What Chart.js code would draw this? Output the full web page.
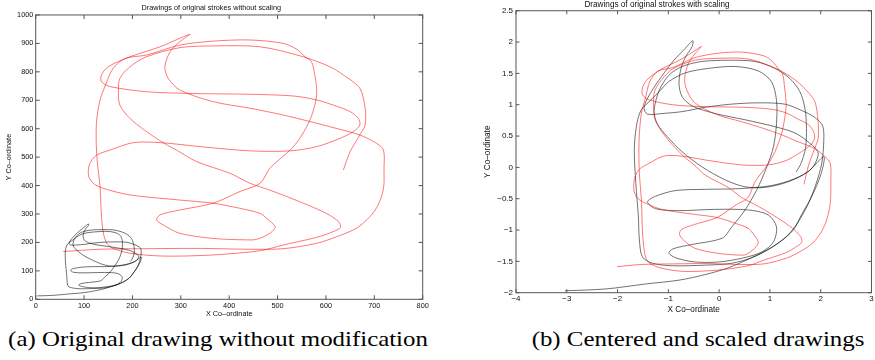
<!DOCTYPE html>
<html>
<head>
<meta charset="utf-8">
<script src="https://cdn.jsdelivr.net/npm/chart.js@4.4.1/dist/chart.umd.min.js"></script>
<style>
  body { margin: 0; width: 875px; height: 360px; background: #fff; position: relative; overflow: hidden; }
  canvas { position: absolute; top: 0; }
  #left { left: 0; }
  #right { left: 440px; }
  .cap { position: absolute; top: 326px; font-family: 'Liberation Serif', serif; font-size: 22px; line-height: 26px; color: #000; white-space: nowrap; transform: translateX(-50%) scaleX(1.13); }
</style>
</head>
<body>
<canvas id="left" width="440" height="322"></canvas>
<canvas id="right" width="435" height="322"></canvas>
<div class="cap" style="left:218px">(a) Original drawing without modification</div>
<div class="cap" style="left:698px">(b) Centered and scaled drawings</div>
<script>
// stroke 1 (red) in original coordinates
const redRawX = [57,133,236,340,443,512,581,622,663,691, 708,719,720,719,705,670,608,567,512,443,
  367,298,274,267,278,298,319,302,257,195, 150,136,136,154,229,319,443,533,581,615,
  650,667,670,657,629,581,526,443,340,257, 202,154,126,112,109,119,140,195,298,367,
  422,464,477,495,484,457,436,367,298,264, 250,257,298,367,422,464,484,526,546,567,
  577,581,577,570,557,539,512,443,367,298, 229,185,160,143,133,126,125,127,133,136,
  140,147,160,195,264,367,464,512,581,615, 630,626,601,546,484,443,402,333,291,271,
  229,195,174,171,174,195,229,298,367,464, 553,608,636,670,681,681,670,650,636];
const redRawY = [168,176,178,179,176,178,197,220,250,291, 332,390,460,525,548,578,607,625,648,672,
  695,736,777,818,871,906,932,921,888,853, 818,789,765,748,730,724,721,715,701,683,
  660,636,613,590,566,537,522,522,537,551, 551,525,507,478,437,408,390,367,349,338,
  320,302,285,255,232,211,209,214,232,261, 279,297,314,338,379,408,461,525,566,631,
  683,730,789,836,853,880,900,912,908,894, 859,847,812,748,701,630,560,490,396,291,
  232,197,179,162,152,156,171,191,218,238, 253,273,302,343,384,408,443,484,525,543,
  590,636,683,730,777,818,853,885,891,888, 853,818,789,742,672,613,578,519,455];

// stroke 2 (black) in original coordinates
const blackRawX = [3,37,70,98,120,139,158,175,187,197,205,212,216,218,217,
  210,200,186,164,142,120,100,84,72,69,71,
  77,85,94,102,109,
  109,104,100,98,100,109,128,153,178,194,205,213,
  208,194,175,147,120,95,78,72,
  78,98,128,156,172,179,
  176,167,150,131,111,96,89,93,109,134,
  142,153,162,171,176,179,179,175,164,145,122,103,89,81,
  74,66,62,61,62,64,65,67,76,92,120,142,
  161,180,193,200,208,216,218,
  205,189,169,153,136,117,100,88,80,77,
  81,89,100,117,139,161,178,190,198,202,204,203,199,195];
const blackRawY = [12,14,19,23,29,36,46,56,67,81,100,120,141,163,179,
  188,195,201,202,201,198,193,191,191,197,205,
  218,232,245,256,265,
  259,250,237,222,209,199,191,185,178,172,163,152,
  136,126,119,115,115,113,108,102,
  95,93,94,94,89,77,
  62,51,45,41,41,45,50,55,59,65,
  77,94,114,138,158,181,205,224,235,239,237,233,224,214,
  205,195,178,155,120,87,63,46,40,37,38,40,
  47,60,74,89,107,131,148,
  133,122,117,117,124,138,153,168,181,195,
  215,230,239,244,245,244,237,227,214,197,176,156,141,133];

// same strokes after centering and scaling
const redScaledX = [-2.01,-1.53,-0.87,-0.21,0.44,0.88,1.32,1.58,1.84,2.02, 2.12,2.19,2.20,2.19,2.10,1.88,1.49,1.23,0.88,0.44,
  -0.04,-0.48,-0.63,-0.68,-0.61,-0.48,-0.35,-0.45,-0.74,-1.13, -1.42,-1.51,-1.51,-1.39,-0.92,-0.35,0.44,1.01,1.32,1.53,
  1.76,1.86,1.88,1.80,1.62,1.32,0.97,0.44,-0.21,-0.74, -1.09,-1.39,-1.57,-1.66,-1.68,-1.62,-1.48,-1.13,-0.48,-0.04,
  0.31,0.57,0.66,0.77,0.70,0.53,0.40,-0.04,-0.48,-0.70, -0.78,-0.74,-0.48,-0.04,0.31,0.57,0.70,0.97,1.10,1.23,
  1.29,1.32,1.29,1.25,1.17,1.05,0.88,0.44,-0.04,-0.48, -0.92,-1.20,-1.36,-1.46,-1.53,-1.57,-1.58,-1.57,-1.53,-1.51,
  -1.48,-1.44,-1.36,-1.13,-0.70,-0.04,0.57,0.88,1.32,1.53, 1.63,1.60,1.44,1.10,0.70,0.44,0.18,-0.26,-0.52,-0.65,
  -0.92,-1.13,-1.27,-1.29,-1.27,-1.13,-0.92,-0.48,-0.04,0.57, 1.14,1.49,1.67,1.88,1.95,1.95,1.88,1.76,1.67];
const redScaledY = [-1.585,-1.55,-1.54,-1.535,-1.55,-1.54,-1.45,-1.35,-1.21,-1.02, -0.83,-0.56,-0.24,0.06,0.16,0.30,0.43,0.52,0.62,0.73,
  0.84,1.03,1.22,1.40,1.65,1.81,1.93,1.88,1.73,1.57, 1.40,1.27,1.16,1.08,1.00,0.97,0.96,0.93,0.87,0.78,
  0.68,0.57,0.46,0.36,0.25,0.11,0.04,0.04,0.11,0.18, 0.18,0.06,-0.03,-0.16,-0.35,-0.48,-0.56,-0.67,-0.75,-0.80,
  -0.89,-0.97,-1.05,-1.19,-1.29,-1.39,-1.40,-1.37,-1.29,-1.16, -1.07,-0.99,-0.91,-0.80,-0.61,-0.48,-0.24,0.06,0.25,0.54,
  0.78,1.00,1.27,1.49,1.57,1.69,1.78,1.84,1.82,1.75, 1.59,1.54,1.38,1.08,0.87,0.54,0.22,-0.10,-0.54,-1.02,
  -1.29,-1.45,-1.535,-1.61,-1.66,-1.64,-1.57,-1.48,-1.36,-1.26, -1.19,-1.10,-0.97,-0.78,-0.59,-0.48,-0.32,-0.13,0.06,0.14,
  0.36,0.57,0.78,1.00,1.22,1.40,1.57,1.71,1.74,1.73, 1.57,1.40,1.27,1.06,0.73,0.46,0.30,0.03,-0.27];

const blackScaledX = [-3.04,-2.23,-1.44,-0.79,-0.27,0.19,0.64,1.03,1.33,1.55,1.75,1.91,2.02,2.06,2.04,
  1.88,1.62,1.29,0.77,0.25,-0.27,-0.73,-1.12,-1.41,-1.48,-1.43,
  -1.28,-1.09,-0.89,-0.69,-0.52,
  -0.53,-0.65,-0.75,-0.79,-0.73,-0.53,-0.08,0.51,1.10,1.49,1.75,1.95,
  1.82,1.49,1.03,0.38,-0.27,-0.86,-1.25,-1.41,
  -1.25,-0.79,-0.08,0.58,0.97,1.13,
  1.07,0.84,0.45,-0.01,-0.47,-0.83,-0.99,-0.91,-0.53,0.06,
  0.25,0.51,0.74,0.94,1.07,1.13,1.13,1.03,0.77,0.32,-0.21,-0.66,-0.99,-1.18,
  -1.35,-1.54,-1.63,-1.67,-1.64,-1.59,-1.57,-1.51,-1.31,-0.92,-0.27,0.25,
  0.71,1.16,1.46,1.62,1.82,2.01,2.06,
  1.75,1.36,0.90,0.51,0.12,-0.34,-0.73,-1.02,-1.22,-1.28,
  -1.18,-0.99,-0.73,-0.34,0.19,0.71,1.10,1.39,1.59,1.69,1.72,1.70,1.61,1.52];
const blackScaledY = [-1.97,-1.94,-1.86,-1.80,-1.71,-1.60,-1.44,-1.28,-1.10,-0.88,-0.59,-0.26,0.06,0.41,0.66,
  0.80,0.91,1.01,1.03,1.01,0.96,0.89,0.86,0.85,0.94,1.07,
  1.28,1.50,1.71,1.88,2.02,
  1.93,1.78,1.58,1.34,1.13,0.98,0.86,0.76,0.65,0.55,0.41,0.23,
  -0.02,-0.18,-0.29,-0.34,-0.35,-0.37,-0.46,-0.55,
  -0.66,-0.69,-0.67,-0.68,-0.76,-0.95,
  -1.19,-1.35,-1.45,-1.51,-1.51,-1.45,-1.37,-1.30,-1.23,-1.13,
  -0.95,-0.68,-0.36,0.01,0.33,0.70,1.07,1.37,1.54,1.61,1.58,1.51,1.37,1.21,
  1.07,0.91,0.65,0.28,-0.26,-0.79,-1.16,-1.43,-1.53,-1.57,-1.56,-1.53,
  -1.42,-1.21,-1.00,-0.76,-0.47,-0.10,0.17,
  -0.07,-0.23,-0.32,-0.31,-0.20,0.01,0.25,0.49,0.70,0.91,
  1.23,1.47,1.61,1.69,1.71,1.69,1.58,1.42,1.21,0.94,0.62,0.30,0.06,-0.07];

const RED = 'rgba(255,0,0,0.6)';
const BLACK = 'rgba(0,0,0,0.62)';

Chart.defaults.font.family = "'Liberation Sans', Arial, sans-serif";
Chart.defaults.color = '#111';

const pts = (xs, ys) => xs.map((x, i) => ({ x: x, y: ys[i] }));

function stroke(label, xs, ys, color) {
  return {
    label: label,
    data: pts(xs, ys),
    showLine: true,
    borderColor: color,
    borderWidth: 0.9,
    pointRadius: 0,
    tension: 0.3,
    fill: false,
  };
}

// matlab style box with ticks pointing inwards
const frame = {
  id: 'frame',
  afterDatasetsDraw(chart, args, opts) {
    const { ctx, chartArea: a, scales } = chart;
    const len = opts.len || 4;
    ctx.save();
    ctx.strokeStyle = '#555';
    ctx.lineWidth = 1;
    ctx.strokeRect(a.left, a.top, a.right - a.left, a.bottom - a.top);
    ctx.beginPath();
    scales.x.ticks.forEach(t => {
      const px = scales.x.getPixelForValue(t.value);
      ctx.moveTo(px, a.bottom); ctx.lineTo(px, a.bottom - len);
      ctx.moveTo(px, a.top); ctx.lineTo(px, a.top + len);
    });
    scales.y.ticks.forEach(t => {
      const py = scales.y.getPixelForValue(t.value);
      ctx.moveTo(a.left, py); ctx.lineTo(a.left + len, py);
      ctx.moveTo(a.right, py); ctx.lineTo(a.right - len, py);
    });
    ctx.stroke();
    ctx.restore();
  }
};

const plain = v => String(v);
const minus = v => (v < 0 ? '\u2212' : '') + Math.abs(Math.round(v * 10) / 10);

new Chart(document.getElementById('left'), {
  type: 'scatter',
  data: {
    datasets: [
      stroke('stroke 2', blackRawX, blackRawY, BLACK),
      stroke('stroke 1', redRawX, redRawY, RED),
    ],
  },
  options: {
    responsive: false,
    animation: false,
    layout: { padding: { left: 0, right: 17.3, top: 0, bottom: 0 } },
    plugins: {
      legend: { display: false },
      tooltip: { enabled: false },
      title: {
        display: true,
        text: 'Drawings of original strokes without scaling',
        font: { size: 7.3, weight: 'normal' },
        padding: { top: 4, bottom: 2.2 },
      },
      frame: { len: 4 },
    },
    scales: {
      x: {
        min: 0, max: 800,
        grid: { display: false, drawTicks: false },
        border: { display: false },
        ticks: { stepSize: 100, font: { size: 7.3 }, padding: 2, maxRotation: 0, callback: plain },
        title: { display: true, text: 'X Co\u2013ordinate', font: { size: 7.3 }, padding: { top: 0, bottom: 4.1 } },
        afterFit: s => { s.height = 22.7; },
      },
      y: {
        min: 0, max: 1000,
        grid: { display: false, drawTicks: false },
        border: { display: false },
        ticks: { stepSize: 100, font: { size: 7.3 }, padding: 2.4, callback: plain },
        title: { display: true, text: 'Y Co\u2013ordinate', font: { size: 7.3 }, padding: { top: 4.6, bottom: 0 } },
        afterFit: s => { s.width = 35.7; },
      },
    },
  },
  plugins: [frame],
});

new Chart(document.getElementById('right'), {
  type: 'scatter',
  data: {
    datasets: [
      stroke('stroke 1', redScaledX, redScaledY, RED),
      stroke('stroke 2', blackScaledX, blackScaledY, BLACK),
    ],
  },
  options: {
    responsive: false,
    animation: false,
    layout: { padding: { left: 0, right: 1, top: 0, bottom: 0 } },
    plugins: {
      legend: { display: false },
      tooltip: { enabled: false },
      title: {
        display: true,
        text: 'Drawings of original strokes with scaling',
        font: { size: 8.2, weight: 'normal' },
        padding: { top: 0, bottom: 0.9 },
      },
      frame: { len: 3.5 },
    },
    scales: {
      x: {
        min: -4, max: 3,
        grid: { display: false, drawTicks: false },
        border: { display: false },
        ticks: { stepSize: 1, font: { size: 8 }, padding: 1.3, maxRotation: 0, callback: minus },
        title: { display: true, text: 'X Co\u2013ordinate', font: { size: 8.2 }, padding: { top: 0, bottom: 7 } },
        afterFit: s => { s.height = 29.3; },
      },
      y: {
        min: -2, max: 2.5,
        grid: { display: false, drawTicks: false },
        border: { display: false },
        ticks: { stepSize: 0.5, font: { size: 8 }, padding: 3, callback: minus },
        title: { display: true, text: 'Y Co\u2013ordinate', font: { size: 8.2 }, padding: { top: 43, bottom: 0 } },
        afterFit: s => { s.width = 76; },
      },
    },
  },
  plugins: [frame],
});
</script>
</body>
</html>
